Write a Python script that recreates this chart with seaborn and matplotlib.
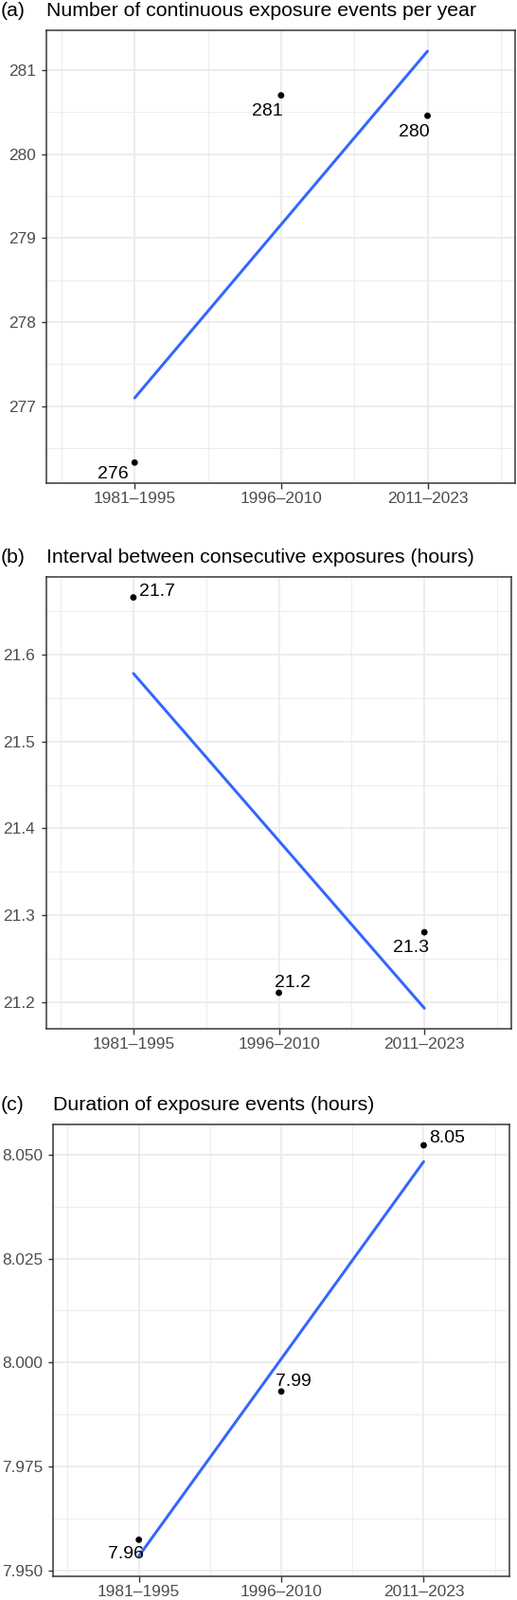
import numpy as np
import pandas as pd
import matplotlib
matplotlib.use("Agg")
import matplotlib.pyplot as plt
import seaborn as sns
from matplotlib.ticker import FixedLocator

# ---------------- data ----------------
periods = ["1981–1995", "1996–2010", "2011–2023"]
period_pos = [1, 2, 3]

events_per_year = [276.327, 280.699, 280.456]
interval_hours = [21.6655, 21.211, 21.2806]
duration_hours = [7.95734, 7.99302, 8.05227]

tags = ["(a)", "(b)", "(c)"]
titles = ["Number of continuous exposure events per year",
          "Interval between consecutive exposures (hours)",
          "Duration of exposure events (hours)"]

yticks_a = [277, 278, 279, 280, 281]
yticks_b = [21.2, 21.3, 21.4, 21.5, 21.6]
yticks_c = [7.950, 7.975, 8.000, 8.025, 8.050]
ytick_labels_a = ["277", "278", "279", "280", "281"]
ytick_labels_b = ["21.2", "21.3", "21.4", "21.5", "21.6"]
ytick_labels_c = ["7.950", "7.975", "8.000", "8.025", "8.050"]

# ---------------- style ----------------
sns.set_theme(style="white")
plt.rcParams['font.family'] = ['Liberation Sans', 'DejaVu Sans']

W, H, DPI = 546, 1689, 100
fig = plt.figure(figsize=(W / DPI, H / DPI), dpi=DPI)
PT = 72.0 / DPI  # points per pixel

def px2pt(v):
    return v * PT

# panel boxes in pixels: left, right, top, bottom
boxes = [(49.4, 544.3, 32.3, 510.0),
         (48.7, 540.4, 609.0, 1086.0),
         (56.4, 537.7, 1187.3, 1664.3)]

# label placement: (ha, va, dx_px, dy_px) ; dy positive = up
label_place = [
    [("right", "top", -6.3, -3.7), ("right", "top", 1.5, -8.0), ("right", "top", 1.7, -8.4)],
    [("left", "baseline", 6.0, 2.0), ("left", "baseline", -4.5, 5.7), ("right", "top", 5.2, -7.7)],
    [("right", "top", 5.3, -6.3), ("left", "baseline", -5.6, 5.7), ("left", "baseline", 5.6, 2.6)],
]

series = [events_per_year, interval_hours, duration_hours]
yticks_all = [yticks_a, yticks_b, yticks_c]
ylabels_all = [ytick_labels_a, ytick_labels_b, ytick_labels_c]

title_fs = px2pt(21.3)
tick_fs = px2pt(17.3)
lab_fs = px2pt(19.5)

for i in range(3):
    l, r, t, b = boxes[i]
    ax = fig.add_axes([l / W, 1 - b / H, (r - l) / W, (b - t) / H])
    df = pd.DataFrame({"x": period_pos, "y": series[i]})

    # gridlines
    yt = yticks_all[i]
    step = yt[1] - yt[0]
    minor_y = [yt[0] - step / 2] + [v + step / 2 for v in yt]
    ax.yaxis.set_major_locator(FixedLocator(yt))
    ax.yaxis.set_minor_locator(FixedLocator(minor_y))
    ax.xaxis.set_major_locator(FixedLocator(period_pos))
    ax.xaxis.set_minor_locator(FixedLocator([0.5, 1.5, 2.5, 3.5]))
    ax.grid(True, which="major", color="#EBEBEB", linewidth=px2pt(1.7))
    ax.grid(True, which="minor", color="#EBEBEB", linewidth=px2pt(0.9))
    ax.set_axisbelow(True)

    sns.regplot(data=df, x="x", y="y", scatter=False, ci=None, ax=ax,
                line_kws=dict(color="#3366FF", linewidth=px2pt(3.0)))
    sns.scatterplot(data=df, x="x", y="y", ax=ax, color="black", s=24,
                    edgecolor="none", zorder=4)

    # limits like ggplot (5% expansion of data incl. fitted line)
    slope, icpt = np.polyfit(period_pos, series[i], 1)
    fit = [icpt + slope * p for p in (1, 3)]
    lo = min(min(series[i]), min(fit))
    hi = max(max(series[i]), max(fit))
    pad = 0.05 * (hi - lo)
    ax.set_ylim(lo - pad, hi + pad)
    ax.set_xlim(0.4, 3.6)

    ax.set_xticks(period_pos)
    ax.set_xticklabels(periods)
    ax.set_yticks(yt)
    ax.set_yticklabels(ylabels_all[i])
    ax.set_xlabel("")
    ax.set_ylabel("")
    ax.tick_params(axis="both", which="major", length=px2pt(5.5), width=px2pt(1.4),
                   color="#333333", labelcolor="#4D4D4D", labelsize=tick_fs,
                   bottom=True, left=True, direction="out")
    ax.tick_params(axis="y", pad=px2pt(6.0))
    ax.tick_params(axis="x", pad=px2pt(3.5))
    ax.tick_params(which="minor", length=0)
    for sp in ax.spines.values():
        sp.set_visible(True)
        sp.set_color("#333333")
        sp.set_linewidth(px2pt(1.5))

    # point labels
    for j, (xv, yv) in enumerate(zip(period_pos, series[i])):
        ha, va, dx, dy = label_place[i][j]
        ax.annotate(f"{yv:.3g}", (xv, yv), xytext=(px2pt(dx), px2pt(dy)),
                    textcoords="offset points", ha=ha, va=va,
                    fontsize=lab_fs, color="black", zorder=5)

    # title and tag
    base_y = 1 - (t - 15.5) / H
    fig.text(l / W, base_y, titles[i], ha="left", va="baseline",
             fontsize=title_fs, color="black")
    fig.text(1.0 / W, base_y, tags[i], ha="left", va="baseline",
             fontsize=title_fs, color="black")

fig.savefig("out.png", dpi=DPI, facecolor="white")
